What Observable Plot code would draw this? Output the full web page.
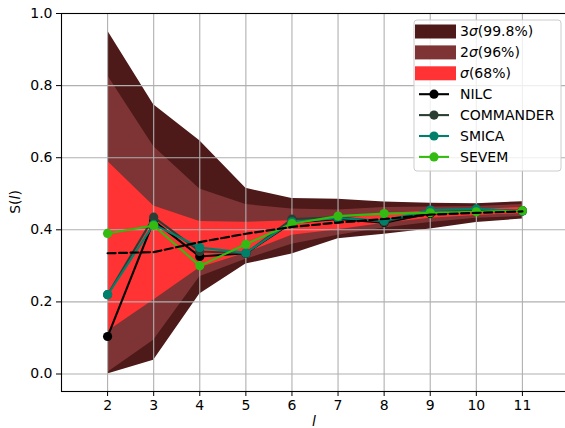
<!DOCTYPE html>
<html>
<head>
<meta charset="utf-8">
<script src="https://cdn.jsdelivr.net/npm/d3@7"></script>
<script src="https://cdn.jsdelivr.net/npm/@observablehq/plot@0.6"></script>
<style>
  html, body { margin: 0; padding: 0; background: white; }
  #chart { position: relative; width: 565px; height: 428px; overflow: hidden; }
</style>
</head>
<body>
<div id="chart"></div>
<script>
// ---- data ----
const ells = [2, 3, 4, 5, 6, 7, 8, 9, 10, 11];
const sig3Hi = [0.952, 0.747, 0.647, 0.515, 0.487, 0.485, 0.477, 0.474, 0.472, 0.478];
const sig2Hi = [0.828, 0.631, 0.513, 0.470, 0.458, 0.455, 0.462, 0.463, 0.465, 0.470];
const sig1Hi = [0.590, 0.466, 0.423, 0.421, 0.425, 0.428, 0.445, 0.452, 0.456, 0.462];
const sig1Lo = [0.118, 0.205, 0.295, 0.335, 0.385, 0.400, 0.418, 0.432, 0.440, 0.445];
const sig2Lo = [0.004, 0.094, 0.270, 0.318, 0.360, 0.385, 0.405, 0.420, 0.432, 0.437];
const sig3Lo = [0.000, 0.038, 0.222, 0.305, 0.333, 0.375, 0.388, 0.402, 0.420, 0.430];
const meanS  = [0.335, 0.338, 0.366, 0.389, 0.408, 0.420, 0.430, 0.442, 0.447, 0.451];
const nilc      = [0.104, 0.425, 0.326, 0.335, 0.420, 0.430, 0.420, 0.445, 0.452, 0.453];
const commander = [0.220, 0.435, 0.340, 0.335, 0.430, 0.435, 0.422, 0.452, 0.457, 0.452];
const smica     = [0.220, 0.415, 0.351, 0.336, 0.422, 0.432, 0.425, 0.455, 0.458, 0.452];
const sevem     = [0.390, 0.412, 0.300, 0.360, 0.417, 0.438, 0.445, 0.447, 0.450, 0.453];
const xTicks = [2, 3, 4, 5, 6, 7, 8, 9, 10, 11];
const yTicks = [0.0, 0.2, 0.4, 0.6, 0.8, 1.0];
const xDomain = [1, 12];
const yDomain = [-0.0485, 1.0];

const bandNames = ["3σ(99.8%)", "2σ(96%)", "σ(68%)"];
const bandColors = ["#4d1919", "#7e3434", "#ff3333"];
const seriesNames = ["NILC", "COMMANDER", "SMICA", "SEVEM"];
const seriesColors = ["#000000", "#2c3e34", "#00806b", "#33bb11"];
const seriesValues = [nilc, commander, smica, sevem];

// ---- tables ----
const bandTable = ells.map((l, i) => ({l, h3: sig3Hi[i], l3: sig3Lo[i], h2: sig2Hi[i], l2: sig2Lo[i], h1: sig1Hi[i], l1: sig1Lo[i], m: meanS[i]}));
const seriesTables = seriesValues.map(vals => ells.map((l, i) => ({l, v: vals[i]})));

const marks = [
  Plot.areaY(bandTable, {x: "l", y1: "l3", y2: "h3", fill: bandColors[0]}),
  Plot.areaY(bandTable, {x: "l", y1: "l2", y2: "h2", fill: bandColors[1]}),
  Plot.areaY(bandTable, {x: "l", y1: "l1", y2: "h1", fill: bandColors[2]}),
  Plot.ruleX(xTicks, {stroke: "#b0b0b0", strokeWidth: 1.1}),
  Plot.ruleY(yTicks, {stroke: "#b0b0b0", strokeWidth: 1.1}),
];
seriesTables.forEach((t, k) => {
  marks.push(Plot.line(t, {x: "l", y: "v", stroke: seriesColors[k], strokeWidth: 2.1}));
  marks.push(Plot.dot(t, {x: "l", y: "v", fill: seriesColors[k], r: 4.6, stroke: "none"}));
});
marks.push(Plot.line(bandTable, {x: "l", y: "m", stroke: "black", strokeWidth: 2.2, strokeDasharray: "8,3.5"}));
marks.push(Plot.frame({stroke: "black", strokeWidth: 1.1}));

const svg = Plot.plot({
  width: 565,
  height: 428,
  marginLeft: 61,
  marginRight: -3,
  marginTop: 13,
  marginBottom: 37,
  style: {fontFamily: "DejaVu Sans", fontSize: "14px", background: "white", color: "black"},
  x: {domain: xDomain, ticks: xTicks, tickSize: 5, tickPadding: 4, label: null, tickFormat: d3.format("d")},
  y: {domain: yDomain, ticks: yTicks, tickSize: 5, tickPadding: 4, label: null, tickFormat: d3.format(".1f")},
  marks
});
document.getElementById("chart").appendChild(svg);

// ---- axis labels ----
const s = d3.select(svg);
s.append("text").attr("x", 314).attr("y", 426).attr("text-anchor", "middle")
  .attr("font-family", "DejaVu Sans").attr("font-size", 14).attr("font-style", "italic").text("l");
const yl = s.append("text").attr("transform", "translate(20,202) rotate(-90)").attr("text-anchor", "middle")
  .attr("font-family", "DejaVu Sans").attr("font-size", 14);
yl.append("tspan").text("S(");
yl.append("tspan").attr("font-style", "italic").text("l");
yl.append("tspan").text(")");

// ---- legend ----
const lg = s.append("g").attr("font-family", "DejaVu Sans").attr("font-size", 14).attr("text-anchor", "start");
lg.append("rect").attr("x", 414).attr("y", 20).attr("width", 147).attr("height", 151).attr("rx", 3)
  .attr("fill", "white").attr("fill-opacity", 0.8).attr("stroke", "#cccccc").attr("stroke-width", 1);
const rowY = i => 31.5 + i * 20.9;
bandNames.forEach((name, i) => {
  lg.append("rect").attr("x", 415).attr("y", rowY(i) - 7).attr("width", 41).attr("height", 14).attr("fill", bandColors[i]);
  const t = lg.append("text").attr("x", 460).attr("y", rowY(i)).attr("dy", "0.35em").attr("text-anchor", "start");
  const parts = name.split("σ");
  if (parts[0]) t.append("tspan").text(parts[0]);
  t.append("tspan").attr("font-style", "italic").text("σ");
  t.append("tspan").text(parts[1]);
});
seriesNames.forEach((name, k) => {
  const y = rowY(k + 3);
  lg.append("line").attr("x1", 419).attr("x2", 449).attr("y1", y).attr("y2", y).attr("stroke", seriesColors[k]).attr("stroke-width", 2.1);
  lg.append("circle").attr("cx", 434).attr("cy", y).attr("r", 4.6).attr("fill", seriesColors[k]);
  lg.append("text").attr("x", 460).attr("y", y).attr("dy", "0.35em").attr("text-anchor", "start").text(name);
});
</script>
</body>
</html>
